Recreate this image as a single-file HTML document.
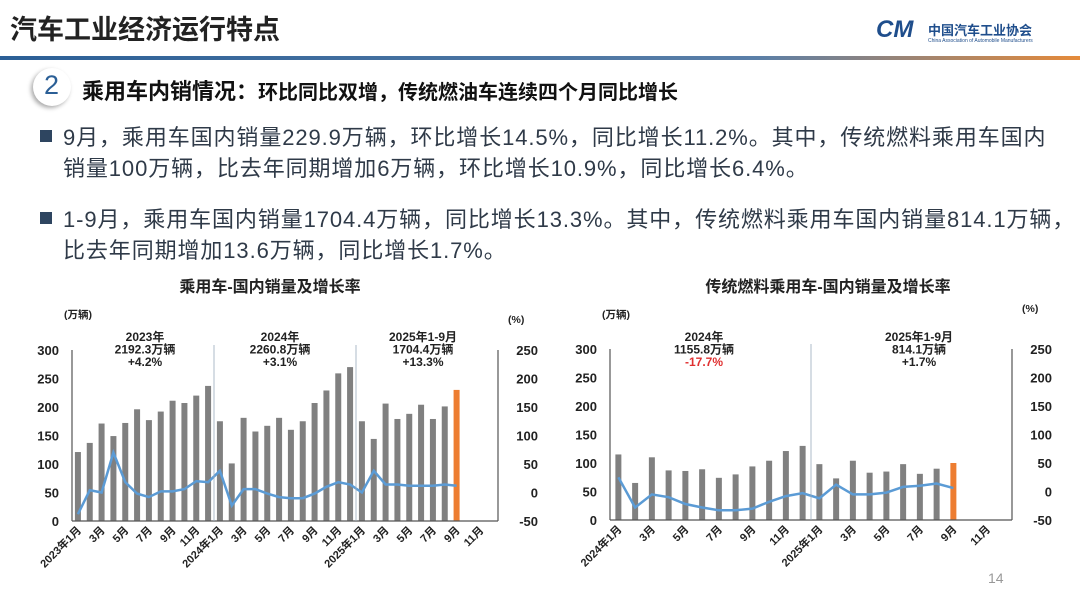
<!DOCTYPE html>
<html><head><meta charset="utf-8">
<style>
body{margin:0;width:1080px;height:607px;background:#fff;overflow:hidden;position:relative;font-family:"Liberation Sans","Noto Sans CJK SC",sans-serif}
.t{position:absolute;white-space:nowrap}
</style></head><body>
<div class="t" style="left:10px;top:8px;font-size:27px;font-weight:bold;color:#222;letter-spacing:0px">汽车工业经济运行特点</div>
<div class="t" style="left:876px;top:16px;font-size:24px;font-weight:bold;color:#1f4e8c;font-style:italic">CM</div>
<div class="t" style="left:928px;top:20px;font-size:13px;font-weight:bold;color:#1f4e8c">中国汽车工业协会</div>
<div class="t" style="left:928px;top:38px;font-size:5px;color:#1f4e8c">China Association of Automobile Manufacturers</div>
<div style="position:absolute;left:0;top:56px;width:1080px;height:4px;background:linear-gradient(90deg,#2b5f96 0%,#5a7fa8 70%,#e58a3a 100%)"></div>
<div style="position:absolute;left:33px;top:68px;width:38px;height:38px;border-radius:50%;background:#fff;box-shadow:-2px 2px 4px #aaa;"></div>
<div class="t" style="left:44px;top:70px;font-size:27px;color:#2b5f96">2</div>
<div class="t" style="left:82px;top:74px;font-size:22px;font-weight:bold;color:#111">乘用车内销情况：<span style="font-size:20px">环比同比双增，传统燃油车连续四个月同比增长</span></div>
<div style="position:absolute;left:40px;top:130px;width:12px;height:12px;background:#2e4560"></div>
<div style="position:absolute;left:40px;top:212px;width:12px;height:12px;background:#2e4560"></div>
<div class="t" style="left:63px;top:122px;font-size:22px;letter-spacing:0.9px;color:#2f3a48;line-height:31px">9月，乘用车国内销量229.9万辆，环比增长14.5%，同比增长11.2%。其中，传统燃料乘用车国内<br>销量100万辆，比去年同期增加6万辆，环比增长10.9%，同比增长6.4%。</div>
<div class="t" style="left:63px;top:204px;font-size:22px;letter-spacing:0.9px;color:#2f3a48;line-height:31px">1-9月，乘用车国内销量1704.4万辆，同比增长13.3%。其中，传统燃料乘用车国内销量814.1万辆，<br>比去年同期增加13.6万辆，同比增长1.7%。</div>
<div class="t" style="left:988px;top:570px;font-size:14px;color:#999">14</div>
<svg id="s" width="1080" height="607" style="position:absolute;left:0;top:0" font-family="Liberation Sans, Noto Sans CJK SC, sans-serif"></svg>
<script>
var s=document.getElementById('s'),h='';
function chart(o){
 var L=o.x0,R=o.x1,Y0=o.y0,Y300=o.y300,n=o.n,w=(R-L)/n,k=(Y0-Y300)/300,z=Y0-50*k;
 h+='<text x="'+o.tx+'" y="292" font-size="16" font-weight="bold" text-anchor="middle" fill="#222">'+o.title+'</text>';
 h+='<text x="'+(L-8)+'' +'" y="318" font-size="10.5" font-weight="bold" fill="#222">(万辆)</text>';
 h+='<text x="'+(R+10)+'' +'" y="'+o.py+'" font-size="10.5" font-weight="bold" fill="#222">(%)</text>';
 for(var i=0;i<=6;i++){var y=Y0-i*50*k;
  h+='<text x="'+(L-13)+'" y="'+(y+5)+'" font-size="13" font-weight="bold" text-anchor="end" fill="#222">'+i*50+'</text>';
  h+='<text x="'+(R+40)+'" y="'+(y+5)+'" font-size="13" font-weight="bold" text-anchor="end" fill="#222">'+(i*50-50)+'</text>';}
 o.bars.forEach(function(v,i){var c=L+(i+.5)*w,bw=6;h+='<rect x="'+(c-bw/2)+'" y="'+(Y0-v*k)+'" width="'+bw+'" height="'+(v*k)+'" fill="'+(i==o.bars.length-1?'#ed7d31':'#808080')+'"/>';});
 var p=o.line.map(function(v,i){return (L+(i+.5)*w).toFixed(1)+','+(z-v*k).toFixed(1)}).join(' ');
 h+='<polyline points="'+p+'" fill="none" stroke="#5b9bd5" stroke-width="2.5"/>';
 h+='<line x1="'+L+'" y1="'+Y300+'" x2="'+L+'" y2="'+Y0+'" stroke="#555" stroke-width="1.2"/><line x1="'+R+'" y1="'+Y300+'" x2="'+R+'" y2="'+Y0+'" stroke="#555" stroke-width="1.2"/><line x1="'+L+'" y1="'+Y0+'" x2="'+R+'" y2="'+Y0+'" stroke="#555" stroke-width="1.2"/>';
 o.div.forEach(function(i){var x=L+i*w;h+='<line x1="'+x+'" y1="'+(Y300-5)+'" x2="'+x+'" y2="'+Y0+'" stroke="#9ab" stroke-width="0.8"/>';});
 o.labels.forEach(function(t,j){var x=L+(2*j+.5)*w+4,y=Y0+10;h+='<text transform="translate('+x+','+y+') rotate(-45)" font-size="11" font-weight="bold" text-anchor="end" fill="#222">'+t+'</text>';});
 o.ann.forEach(function(a){a[1].forEach(function(t,j){h+='<text x="'+a[0]+'" y="'+(341+j*12.5)+'" font-size="12" font-weight="bold" text-anchor="middle" fill="'+(a[2]&&j==2?'#e03030':'#222')+'">'+t+'</text>';});});
}
chart({x0:72,x1:498,y0:521,y300:350,n:36,tx:270,py:323,title:'乘用车-国内销量及增长率',
bars:[121,137,171,149,172,196,177,192,211,207,220,237,175,101,181,157,167,181,160,175,207,229,259,270,175,144,206,179,188,204,179,201,230],
line:[-38,4,0,70,18,-2,-8,2,2,6,20,18,38,-23,6,6,-2,-8,-10,-10,-2,10,18,14,0,38,14,14,12,12,12,14,12],
div:[12,24],labels:['2023年1月','3月','5月','7月','9月','11月','2024年1月','3月','5月','7月','9月','11月','2025年1月','3月','5月','7月','9月','11月'],
ann:[[145,['2023年','2192.3万辆','+4.2%']],[280,['2024年','2260.8万辆','+3.1%']],[423,['2025年1-9月','1704.4万辆','+13.3%']]]});
chart({x0:610,x1:1012,y0:520,y300:349,n:24,tx:828,py:312,title:'传统燃料乘用车-国内销量及增长率',
bars:[115,65,110,87,86,89,74,80,94,104,121,130,98,73,104,83,85,98,81,90,100],
line:[25,-28,-5,-10,-22,-28,-33,-33,-30,-18,-8,-3,-12,12,-5,-5,-2,8,10,14,6],
div:[12],labels:['2024年1月','3月','5月','7月','9月','11月','2025年1月','3月','5月','7月','9月','11月'],
ann:[[704,['2024年','1155.8万辆','-17.7%'],1],[919,['2025年1-9月','814.1万辆','+1.7%']]]});
s.innerHTML=h;
</script>
</body></html>
